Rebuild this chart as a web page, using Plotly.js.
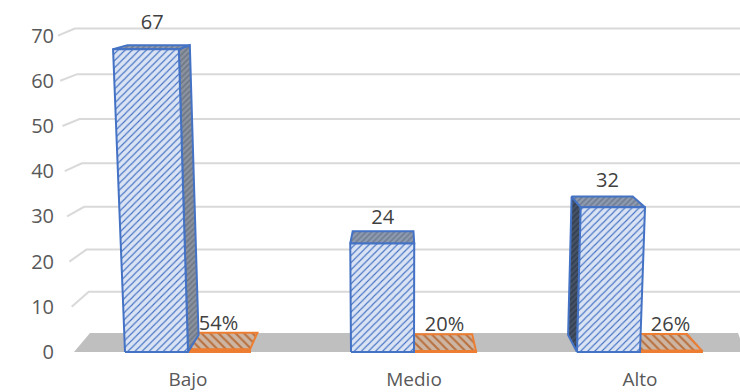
<!DOCTYPE html>
<html>
<head>
<meta charset="utf-8">
<script src="https://cdn.plot.ly/plotly-3.0.1.min.js"></script>
<style>html,body{margin:0;padding:0;background:#fff}#chart{width:740px;height:392px}</style>
</head>
<body>
<div id="chart"></div>
<script>
// Chart data
const categories = ['Bajo', 'Medio', 'Alto'];
const counts = [67, 24, 32];
const shares = [0.54, 0.20, 0.26];
const shareLabels = ['54%', '20%', '26%'];
const yTicks = [0, 10, 20, 30, 40, 50, 60, 70];

// Perspective model: x is in chart units, y in axis values
const UNITS_PER_VALUE = 4.52;       // plot height units for one y unit
const VANISH_X = 399;
const SLOT_X = [188, 414, 640];     // cluster centres on the x axis
const BAR_W = 63;

const spread = (x, v) => x + (x - VANISH_X) * 0.00065 * v;
// Where a point of the front plane lands after moving back by the bar's depth
const depthX = (x) => x - (x - VANISH_X) * 0.05;
const depthUp = (v) => (17 - 0.195 * v) / UNITS_PER_VALUE;

const front = (x, v) => [spread(x, v), v];
const back = (x, v) => { const p = spread(x, v); return [depthX(p), v + depthUp(v)]; };

function poly(points, line, fill, fillpattern, extra) {
  const closed = points.concat([points[0]]);
  return Object.assign({
    type: 'scatter', mode: 'lines', hoverinfo: 'skip', showlegend: false,
    x: closed.map(p => p[0]), y: closed.map(p => p[1]),
    fill: 'toself', fillcolor: fill,
    fillpattern: fillpattern,
    line: { color: line, width: 2, shape: 'linear' }
  }, extra || {});
}

const traces = [];

// Back wall and floor
const wallY = (v) => (352 - (333 - 4.1 * v - 0.00357 * v * v)) / UNITS_PER_VALUE;
const floorBack = wallY(0);
traces.push(poly([[74, 0], [90, floorBack], [738, floorBack], [745, 0]], 'rgba(0,0,0,0)', '#bfbfbf'));
yTicks.slice(1).forEach(v => {
  traces.push({
    type: 'scatter', mode: 'lines', hoverinfo: 'skip', showlegend: false,
    x: [74 - 0.23 * v, 91 - 0.23 * v, 745],
    y: [v, wallY(v), wallY(v)],
    line: { color: '#d9d9d9', width: 2 }
  });
});

const blue = '#4472c4';
const orange = '#ed7d31';
const frontPattern = { shape: '/', size: 5, solidity: 0.22, fgcolor: '#4472c4', bgcolor: '#dae3f3', fillmode: 'replace' };
const topPattern = { shape: '/', size: 4, solidity: 0.4, fgcolor: '#6f7c92', bgcolor: '#8f9bb0', fillmode: 'replace' };
const sidePattern = { shape: '/', size: 4, solidity: 0.4, fgcolor: '#6f7785', bgcolor: '#8b93a1', fillmode: 'replace' };
const darkPattern = { shape: '/', size: 4, solidity: 0.4, fgcolor: '#333d4f', bgcolor: '#465367', fillmode: 'replace' };
const shadePattern = { shape: '\\', size: 6, solidity: 0.35, fgcolor: '#b9713f', bgcolor: '#cdb5a3', fillmode: 'replace' };

// Second series: nearly flat prisms beside each bar
shares.forEach((v, i) => {
  const l = SLOT_X[i] - 1, r = l + BAR_W;
  traces.push(poly([front(l, v), front(r, v), back(r, v), back(l, v)], orange, '#cdb5a3', shadePattern));
  traces.push(poly([[l, 0], [r, 0], front(r, v), front(l, v)], orange, orange));
});

// First series: prisms with their visible side, top and front faces
counts.forEach((v, i) => {
  const r = SLOT_X[i], l = r - BAR_W;
  const rightVisible = r < VANISH_X - 100;
  const leftVisible = l > VANISH_X + 100;
  if (rightVisible) {
    traces.push(poly([front(r, 0), back(r, 0), back(r, v), front(r, v)], blue, '#8b93a1', sidePattern));
  }
  if (leftVisible) {
    traces.push(poly([front(l, 0), back(l, 0), back(l, v), front(l, v)], blue, '#465367', darkPattern));
  }
  traces.push(poly([front(l, v), front(r, v), back(r, v), back(l, v)], blue, '#8f9bb0', topPattern));
  traces.push(poly([front(l, 0), front(r, 0), front(r, v), front(l, v)], blue, '#dae3f3', frontPattern));
});

// Value labels, lifted a fixed distance above each mark
const LABEL_LIFT = 25 / UNITS_PER_VALUE;
const labelFont = { family: '"Open Sans", sans-serif', size: 20, color: '#404040' };
traces.push({
  type: 'scatter', mode: 'text', hoverinfo: 'skip', showlegend: false,
  x: counts.map((v, i) => {
    const r = SLOT_X[i], l = r - BAR_W;
    return (front(l, v)[0] + front(r, v)[0] + back(l, v)[0] + back(r, v)[0]) / 4;
  }),
  y: counts.map(v => v + LABEL_LIFT),
  text: counts.map(String),
  textposition: 'middle center',
  textfont: labelFont
});
traces.push({
  type: 'scatter', mode: 'text', hoverinfo: 'skip', showlegend: false,
  x: shares.map((v, i) => SLOT_X[i] + BAR_W / 2 - 1),
  y: shares.map(v => v + LABEL_LIFT),
  text: shareLabels,
  textposition: 'middle center',
  textfont: labelFont
});

const PLOT_BOTTOM = 360;
const layout = {
  width: 740, height: 392,
  margin: { l: 55, r: 0, t: 0, b: 392 - PLOT_BOTTOM, pad: 0 },
  paper_bgcolor: '#fff', plot_bgcolor: '#fff',
  showlegend: false,
  xaxis: {
    type: 'linear', range: [55, 740], fixedrange: true,
    showgrid: false, zeroline: false, showline: false,
    tickmode: 'array', tickvals: SLOT_X, ticktext: categories,
    ticks: 'outside', ticklen: 2, tickcolor: 'rgba(0,0,0,0)',
    tickfont: { family: '"Open Sans", sans-serif', size: 19, color: '#595959' }
  },
  yaxis: {
    type: 'linear', fixedrange: true,
    range: [(352 - PLOT_BOTTOM) / UNITS_PER_VALUE, 352 / UNITS_PER_VALUE],
    showgrid: false, zeroline: false, showline: false,
    tickmode: 'array', tickvals: yTicks, ticktext: yTicks.map(String), ticks: '',
    tickfont: { family: '"Open Sans", sans-serif', size: 20, color: '#595959' }
  }
};

Plotly.newPlot('chart', traces, layout, { displayModeBar: false, staticPlot: true });
</script>
</body>
</html>
